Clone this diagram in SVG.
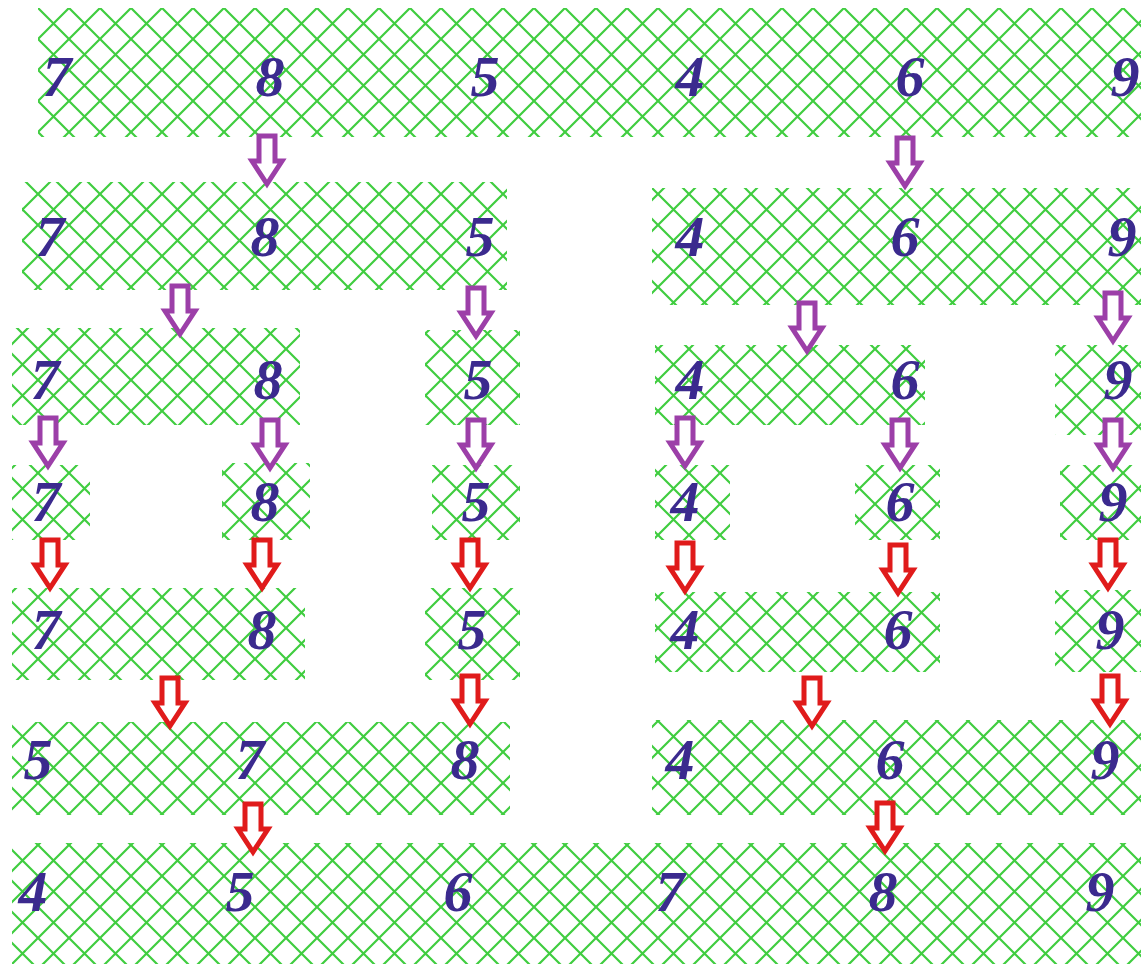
<svg xmlns="http://www.w3.org/2000/svg" xmlns:xlink="http://www.w3.org/1999/xlink" width="1141" height="964" viewBox="0 0 1141 964">
<style>
.box{fill:url(#hatch);}
.num{font-family:"Liberation Serif","DejaVu Serif",serif;font-weight:bold;font-style:italic;font-size:58px;fill:#3b2a8e;text-anchor:middle;}
.ap{fill:#fff;stroke:#9c3fa8;stroke-width:5;stroke-linejoin:miter;}
.ar{fill:#fff;stroke:#e01b1b;stroke-width:5;stroke-linejoin:miter;}
</style>
<defs>
<pattern id="hatch" patternUnits="userSpaceOnUse" width="31" height="31" x="7" y="8">
<path d="M0,0 L31,31 M0,31 L31,0" stroke="#40cd40" stroke-width="2.2" fill="none"/>
</pattern>
<path id="arrow" d="M-8,-52 H8 V-27 H15 L0,-4 L-15,-27 H-8 Z"/>
</defs>
<rect width="1141" height="964" fill="#fff"/>
<g id="row1"><rect class="box" x="38" y="8" width="1103" height="129"/>
<text class="num" x="57" y="96">7</text><text class="num" x="270" y="96">8</text><text class="num" x="485" y="96">5</text><text class="num" x="690" y="96">4</text><text class="num" x="910" y="96">6</text><text class="num" x="1125" y="96">9</text></g>
<g id="r2-left"><rect class="box" x="22" y="182" width="485" height="108"/>
<text class="num" x="50" y="256">7</text><text class="num" x="265" y="256">8</text><text class="num" x="480" y="256">5</text></g>
<g id="r2-right"><rect class="box" x="652" y="188" width="489" height="117"/>
<text class="num" x="690" y="256">4</text><text class="num" x="905" y="256">6</text><text class="num" x="1122" y="256">9</text></g>
<g id="r3-78"><rect class="box" x="12" y="328" width="288" height="97"/>
<text class="num" x="45" y="399">7</text><text class="num" x="268" y="399">8</text></g>
<g id="r3-5"><rect class="box" x="425" y="330" width="95" height="95"/><text class="num" x="478" y="399">5</text></g>
<g id="r3-46"><rect class="box" x="655" y="345" width="270" height="80"/>
<text class="num" x="690" y="399">4</text><text class="num" x="905" y="399">6</text></g>
<g id="r3-9"><rect class="box" x="1055" y="345" width="86" height="90"/><text class="num" x="1118" y="399">9</text></g>
<g id="r4-7"><rect class="box" x="12" y="465" width="78" height="75"/><text class="num" x="46" y="521">7</text></g>
<g id="r4-8"><rect class="box" x="222" y="463" width="88" height="77"/><text class="num" x="265" y="521">8</text></g>
<g id="r4-5"><rect class="box" x="432" y="465" width="88" height="75"/><text class="num" x="476" y="521">5</text></g>
<g id="r4-4"><rect class="box" x="655" y="465" width="75" height="75"/><text class="num" x="685" y="521">4</text></g>
<g id="r4-6"><rect class="box" x="855" y="465" width="85" height="75"/><text class="num" x="900" y="521">6</text></g>
<g id="r4-9"><rect class="box" x="1060" y="465" width="81" height="75"/><text class="num" x="1113" y="521">9</text></g>
<g id="r5-78"><rect class="box" x="12" y="588" width="293" height="92"/>
<text class="num" x="46" y="649">7</text><text class="num" x="262" y="649">8</text></g>
<g id="r5-5"><rect class="box" x="425" y="588" width="95" height="92"/><text class="num" x="472" y="649">5</text></g>
<g id="r5-46"><rect class="box" x="655" y="592" width="285" height="80"/>
<text class="num" x="685" y="649">4</text><text class="num" x="898" y="649">6</text></g>
<g id="r5-9"><rect class="box" x="1055" y="590" width="86" height="82"/><text class="num" x="1110" y="649">9</text></g>
<g id="r6-left"><rect class="box" x="12" y="722" width="498" height="93"/>
<text class="num" x="38" y="779">5</text><text class="num" x="250" y="779">7</text><text class="num" x="465" y="779">8</text></g>
<g id="r6-right"><rect class="box" x="652" y="720" width="489" height="95"/>
<text class="num" x="680" y="779">4</text><text class="num" x="890" y="779">6</text><text class="num" x="1105" y="779">9</text></g>
<g id="row7"><rect class="box" x="12" y="843" width="1129" height="121"/>
<text class="num" x="33" y="911">4</text><text class="num" x="240" y="911">5</text><text class="num" x="458" y="911">6</text><text class="num" x="670" y="911">7</text><text class="num" x="883" y="911">8</text><text class="num" x="1100" y="911">9</text></g>
<g id="connectors">
<use xlink:href="#arrow" class="ap" transform="translate(267,188)"/>
<use xlink:href="#arrow" class="ap" transform="translate(905,190)"/>
<use xlink:href="#arrow" class="ap" transform="translate(180,338)"/>
<use xlink:href="#arrow" class="ap" transform="translate(476,340)"/>
<use xlink:href="#arrow" class="ap" transform="translate(807,355)"/>
<use xlink:href="#arrow" class="ap" transform="translate(1113,345)"/>
<use xlink:href="#arrow" class="ap" transform="translate(48,470)"/>
<use xlink:href="#arrow" class="ap" transform="translate(270,472)"/>
<use xlink:href="#arrow" class="ap" transform="translate(476,472)"/>
<use xlink:href="#arrow" class="ap" transform="translate(685,470)"/>
<use xlink:href="#arrow" class="ap" transform="translate(900,472)"/>
<use xlink:href="#arrow" class="ap" transform="translate(1113,472)"/>
<use xlink:href="#arrow" class="ar" transform="translate(50,592)"/>
<use xlink:href="#arrow" class="ar" transform="translate(262,592)"/>
<use xlink:href="#arrow" class="ar" transform="translate(470,592)"/>
<use xlink:href="#arrow" class="ar" transform="translate(685,595)"/>
<use xlink:href="#arrow" class="ar" transform="translate(898,597)"/>
<use xlink:href="#arrow" class="ar" transform="translate(1108,592)"/>
<use xlink:href="#arrow" class="ar" transform="translate(170,730)"/>
<use xlink:href="#arrow" class="ar" transform="translate(470,728)"/>
<use xlink:href="#arrow" class="ar" transform="translate(812,730)"/>
<use xlink:href="#arrow" class="ar" transform="translate(1110,728)"/>
<use xlink:href="#arrow" class="ar" transform="translate(253,856)"/>
<use xlink:href="#arrow" class="ar" transform="translate(885,855)"/>
</g>
</svg>
